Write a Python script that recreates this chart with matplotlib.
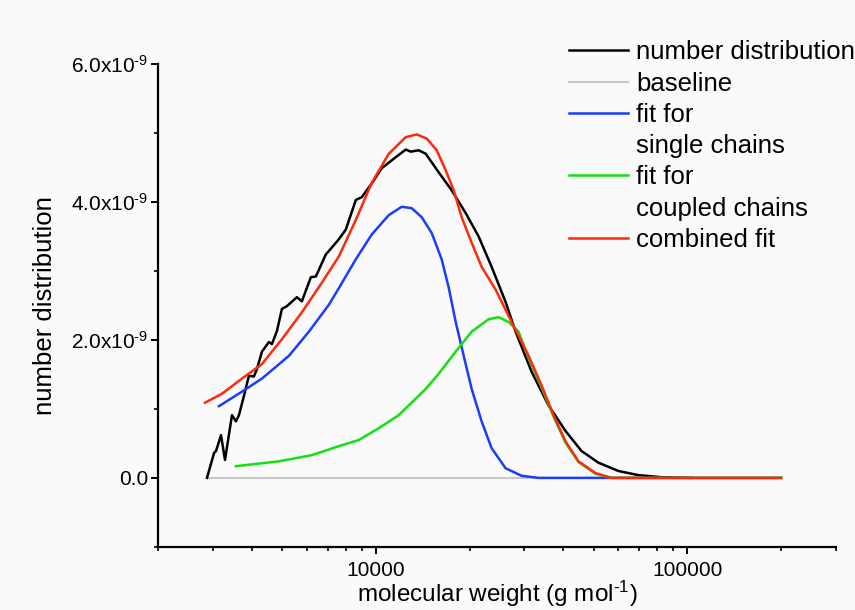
"""Number distribution of molecular weight with single / coupled chain fits."""
import matplotlib

matplotlib.use("Agg")

import matplotlib.pyplot as plt
from matplotlib.lines import Line2D
from matplotlib.ticker import FixedLocator, FuncFormatter, NullFormatter

# measured number distribution (molecular weight, value in 1e-9)
mw_measured = [2872, 3026, 3071, 3186, 3281, 3455, 3558, 3638, 3775, 3916, 4064, 4155,
               4311, 4540, 4642, 4817, 4997, 5185, 5582, 5791, 6190, 6422, 6914, 7228,
               7610, 8013, 8629, 9019, 9709, 10450, 11590, 12480, 12950, 13730, 14460,
               15920, 17520, 19430, 21380, 23540, 26100, 28100, 31620, 35850, 40640,
               45740, 51840, 60090, 69660, 82540, 103000]
nd_measured = [0.0, 0.36, 0.39, 0.62, 0.26, 0.91, 0.82, 0.91, 1.19, 1.48, 1.47, 1.58,
               1.83, 1.97, 1.94, 2.13, 2.45, 2.49, 2.62, 2.56, 2.91, 2.92, 3.24, 3.34,
               3.46, 3.60, 4.03, 4.07, 4.27, 4.49, 4.65, 4.76, 4.73, 4.75, 4.70,
               4.43, 4.17, 3.84, 3.50, 3.06, 2.55, 2.12, 1.54, 1.05, 0.68,
               0.39, 0.22, 0.10, 0.04, 0.01, 0.0]

mw_baseline = [2870, 200000]
nd_baseline = [0.0, 0.0]

mw_single = [3139, 3719, 4311, 5263, 6099, 7070, 7610, 8629, 9709, 11010, 12110, 13040,
             14040, 15120, 16270, 17140, 18050, 19150, 20310, 21860, 23540, 26100,
             29380, 33300, 200000]
nd_single = [1.04, 1.25, 1.44, 1.77, 2.12, 2.51, 2.75, 3.17, 3.53, 3.81, 3.93, 3.91,
             3.78, 3.55, 3.17, 2.76, 2.26, 1.77, 1.29, 0.82, 0.43, 0.14,
             0.03, 0.0, 0.0]

mw_coupled = [3558, 4888, 6235, 7610, 8822, 10220, 11850, 14460, 15920, 18050, 20310,
              23020, 24790, 26690, 28720, 30930, 34050, 37190, 40640, 44730, 50700,
              57060, 200000]
nd_coupled = [0.17, 0.24, 0.33, 0.46, 0.55, 0.72, 0.91, 1.29, 1.51, 1.83, 2.12,
              2.30, 2.33, 2.26, 2.12, 1.74, 1.31, 0.89, 0.51, 0.23, 0.06,
              0.0, 0.0]

mw_combined = [2830, 3209, 3719, 4311, 4997, 5791, 6713, 7610, 8629, 9709, 11010, 12480,
               13530, 14570, 15690, 16760, 17780, 18860, 20310, 21860, 24240, 27280,
               30930, 34050, 37190, 40640, 44730, 50700, 57060, 108400, 200000]
nd_combined = [1.09, 1.22, 1.44, 1.65, 2.01, 2.40, 2.83, 3.21, 3.74, 4.28, 4.70, 4.94,
               4.98, 4.92, 4.75, 4.46, 4.17, 3.78, 3.41, 3.06, 2.73, 2.26,
               1.77, 1.34, 0.91, 0.53, 0.24, 0.07, 0.0, 0.0, 0.0]

legend_labels = ["number distribution", "baseline", "fit for", "single chains",
                 "fit for", "coupled chains", "combined fit"]

SCALE = 1e-9
FONT = "Liberation Sans"
LW = 1.8

plt.rcParams["font.family"] = FONT
plt.rcParams["mathtext.fontset"] = "custom"
plt.rcParams["mathtext.rm"] = FONT
plt.rcParams["mathtext.it"] = FONT + ":italic"


def scaled(values):
    return [v * SCALE for v in values]


fig = plt.figure(figsize=(8.55, 6.1), dpi=100, facecolor="#fafafa")
ax = fig.add_axes([0.1848, 0.1035, 0.793, 0.7915])
ax.set_facecolor("#fafafa")

ax.plot(mw_baseline, scaled(nd_baseline), color="#c8c8c8", linewidth=1.5)
ax.plot(mw_measured, scaled(nd_measured), color="black", linewidth=LW)
ax.plot(mw_single, scaled(nd_single), color="#1a3cff", linewidth=LW)
ax.plot(mw_coupled, scaled(nd_coupled), color="#11e011", linewidth=LW)
ax.plot(mw_combined, scaled(nd_combined), color="#ff2a0a", linewidth=LW)

ax.set_xscale("log")
ax.set_xlim(2000, 300000)
ax.set_ylim(-1e-9, 6e-9)

ax.xaxis.set_major_locator(FixedLocator([1000, 10000, 100000]))
ax.xaxis.set_major_formatter(FuncFormatter(lambda v, _: f"{v:.0f}"))
ax.xaxis.set_minor_locator(FixedLocator(
    [m * d for d in (1000, 10000, 100000) for m in range(2, 10)]))
ax.xaxis.set_minor_formatter(NullFormatter())


def y_fmt(v, _):
    if abs(v) < 1e-15:
        return "0.0"
    return f"{v / SCALE:.1f}x10$^{{\\text{{-9}}}}$"


ax.yaxis.set_major_locator(FixedLocator([0, 2e-9, 4e-9, 6e-9]))
ax.yaxis.set_major_formatter(FuncFormatter(y_fmt))
ax.yaxis.set_minor_locator(FixedLocator([-1e-9, 1e-9, 3e-9, 5e-9]))

for side in ("top", "right"):
    ax.spines[side].set_visible(False)
for side in ("left", "bottom"):
    ax.spines[side].set_linewidth(1.6)
ax.spines["left"].set_bounds(-1e-9, 6e-9)

ax.tick_params(which="major", direction="out", length=5, width=1.4, labelsize=15, pad=2)
ax.tick_params(which="minor", direction="out", length=3, width=1.2)
ax.tick_params(axis="x", which="major", pad=5)

ax.set_xlabel("molecular weight (g mol$^{\\text{-1}}$)", fontsize=17.5, labelpad=-0.5)
ax.set_ylabel("number distribution", fontsize=18.5, labelpad=10)

handles = [
    Line2D([], [], color="black", linewidth=LW),
    Line2D([], [], color="#c8c8c8", linewidth=1.5),
    Line2D([], [], color="#1a3cff", linewidth=LW),
    Line2D([], [], color="none"),
    Line2D([], [], color="#11e011", linewidth=LW),
    Line2D([], [], color="none"),
    Line2D([], [], color="#ff2a0a", linewidth=LW),
]
fig.legend(handles, legend_labels, loc="upper right", bbox_to_anchor=(1.0, 0.934),
           frameon=False, fontsize=18.5, handlelength=2.3, handletextpad=0.3,
           labelspacing=0.284, borderpad=0.0, borderaxespad=0.0)

fig.savefig("out.png", dpi=100, facecolor=fig.get_facecolor())
